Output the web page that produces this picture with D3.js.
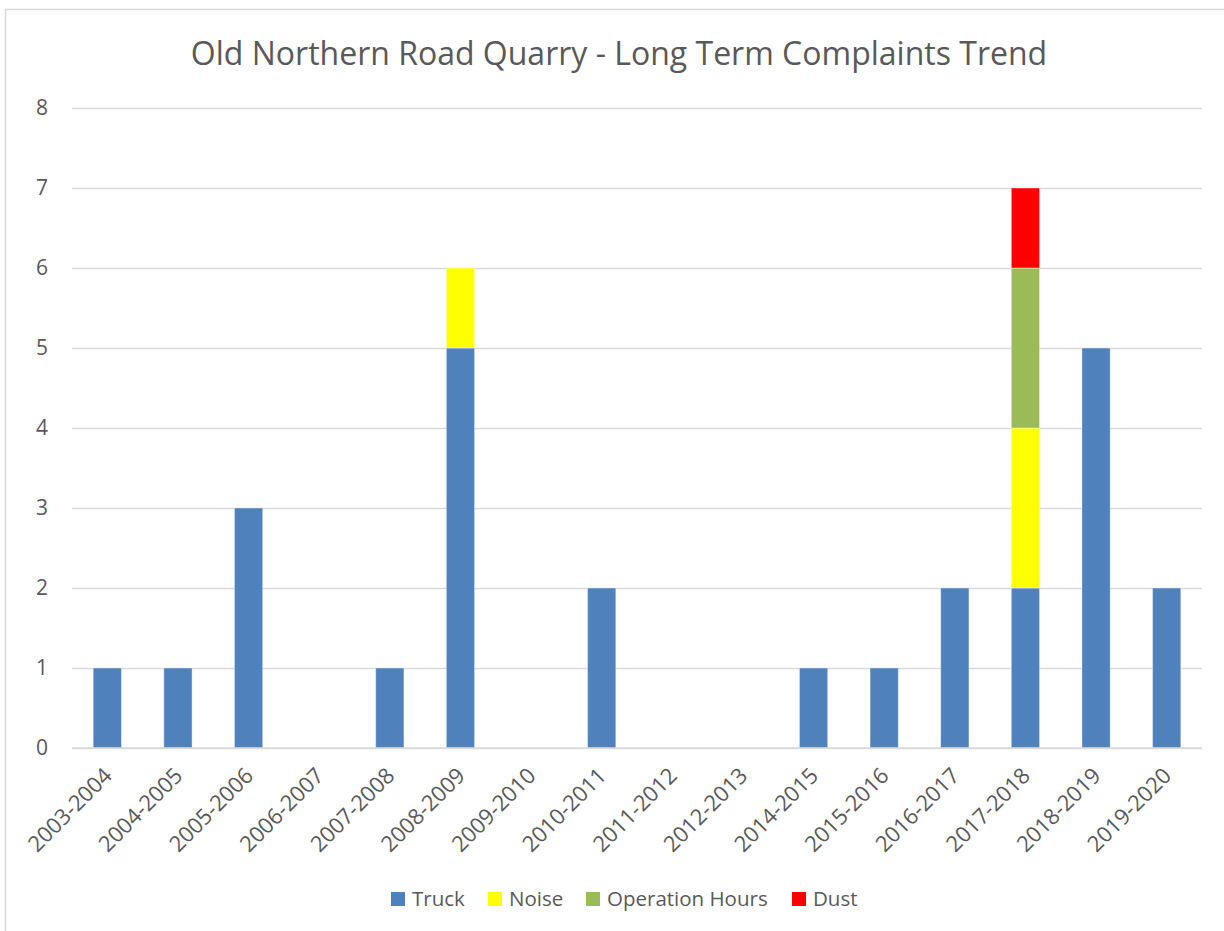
<!DOCTYPE html>
<html>
<head>
<meta charset="utf-8">
<script src="https://d3js.org/d3.v7.min.js"></script>
<style>
  body { margin: 0; background: #fff; }
  text { font-family: "Open Sans", sans-serif; fill: #595959; }
</style>
</head>
<body>
<div id="chart"></div>
<script>
// data
var years = ["2003-2004", "2004-2005", "2005-2006", "2006-2007", "2007-2008", "2008-2009",
  "2009-2010", "2010-2011", "2011-2012", "2012-2013", "2014-2015", "2015-2016",
  "2016-2017", "2017-2018", "2018-2019", "2019-2020"];
var truck = [1, 1, 3, 0, 1, 5, 0, 2, 0, 0, 1, 1, 2, 2, 5, 2];
var noise = [0, 0, 0, 0, 0, 1, 0, 0, 0, 0, 0, 0, 0, 2, 0, 0];
var operationHours = [0, 0, 0, 0, 0, 0, 0, 0, 0, 0, 0, 0, 0, 2, 0, 0];
var dust = [0, 0, 0, 0, 0, 0, 0, 0, 0, 0, 0, 0, 0, 1, 0, 0];
var seriesNames = ["Truck", "Noise", "Operation Hours", "Dust"];
var seriesColors = ["#4F81BD", "#FFFF00", "#9BBB59", "#FF0000"];
var yTicks = [0, 1, 2, 3, 4, 5, 6, 7, 8];

var W = 1224, H = 931;
var margin = {top: 108, right: 22, bottom: 183, left: 72};
var width = W - margin.left - margin.right,
    height = H - margin.top - margin.bottom;

var svg = d3.select("#chart").append("svg")
  .attr("width", W)
  .attr("height", H);

// chart border (right/bottom edges run off the picture)
svg.append("rect")
  .attr("x", 5.5).attr("y", 9.5)
  .attr("width", 1240).attr("height", 940)
  .attr("fill", "none")
  .attr("stroke", "#d9d9d9")
  .attr("stroke-width", 1.5);

svg.append("text")
  .attr("x", 619).attr("y", 65)
  .attr("text-anchor", "middle")
  .style("font-size", "32px")
  .text("Old Northern Road Quarry - Long Term Complaints Trend");

var g = svg.append("g")
  .attr("transform", "translate(" + margin.left + "," + margin.top + ")");

var x = d3.scaleBand().domain(years).range([0, width]).paddingInner(0.6).paddingOuter(0.3);
var y = d3.scaleLinear().domain([0, 8]).range([height, 0]);

// gridlines
g.append("g")
  .call(d3.axisLeft(y).tickValues(yTicks).tickSize(-width).tickFormat(""))
  .call(function(a) {
    a.select(".domain").remove();
    a.selectAll("line").attr("stroke", "#d9d9d9").attr("stroke-width", 1.5);
  });

// y labels
g.append("g")
  .call(d3.axisLeft(y).tickValues(yTicks).tickSize(0).tickPadding(24))
  .call(function(a) {
    a.select(".domain").remove();
    a.selectAll("text").style("font-size", "21px").style("fill", "#595959");
  });

// stacked bars
var table = years.map(function(yr, i) {
  return {year: yr, "Truck": truck[i], "Noise": noise[i],
    "Operation Hours": operationHours[i], "Dust": dust[i]};
});
var stack = d3.stack().keys(seriesNames)(table);

g.selectAll("g.series")
  .data(stack)
  .enter().append("g")
    .attr("class", "series")
    .attr("fill", function(d, i) { return seriesColors[i]; })
  .selectAll("rect")
  .data(function(d) { return d.filter(function(p) { return p[1] > p[0]; }); })
  .enter().append("rect")
    .attr("x", function(d) { return x(d.data.year); })
    .attr("y", function(d) { return y(d[1]); })
    .attr("width", x.bandwidth())
    .attr("height", function(d) { return y(d[0]) - y(d[1]); })
    .attr("stroke", "#ffffff")
    .attr("stroke-opacity", 0.4)
    .attr("stroke-width", 1);

// x axis line
g.append("line")
  .attr("x1", 0).attr("x2", width)
  .attr("y1", height).attr("y2", height)
  .attr("stroke", "#d9d9d9").attr("stroke-width", 1.5);

// x labels, rotated
g.append("g")
  .attr("transform", "translate(0," + height + ")")
  .call(d3.axisBottom(x).tickSize(0).tickPadding(0))
  .call(function(a) {
    a.select(".domain").remove();
    a.selectAll("text")
      .style("font-size", "22px")
      .style("fill", "#595959")
      .attr("text-anchor", "end")
      .attr("x", 0).attr("y", 0).attr("dy", 0)
      .attr("transform", "translate(6,29) rotate(-45)");
  });

// legend
var legendX = [391, 488, 586, 792];
var legend = svg.append("g");
seriesNames.forEach(function(name, i) {
  legend.append("rect")
    .attr("x", legendX[i]).attr("y", 892)
    .attr("width", 14).attr("height", 14)
    .attr("fill", seriesColors[i]);
  legend.append("text")
    .attr("x", legendX[i] + 21).attr("y", 899)
    .attr("dy", "0.35em")
    .style("font-size", "20.5px")
    .text(name);
});
</script>
</body>
</html>
